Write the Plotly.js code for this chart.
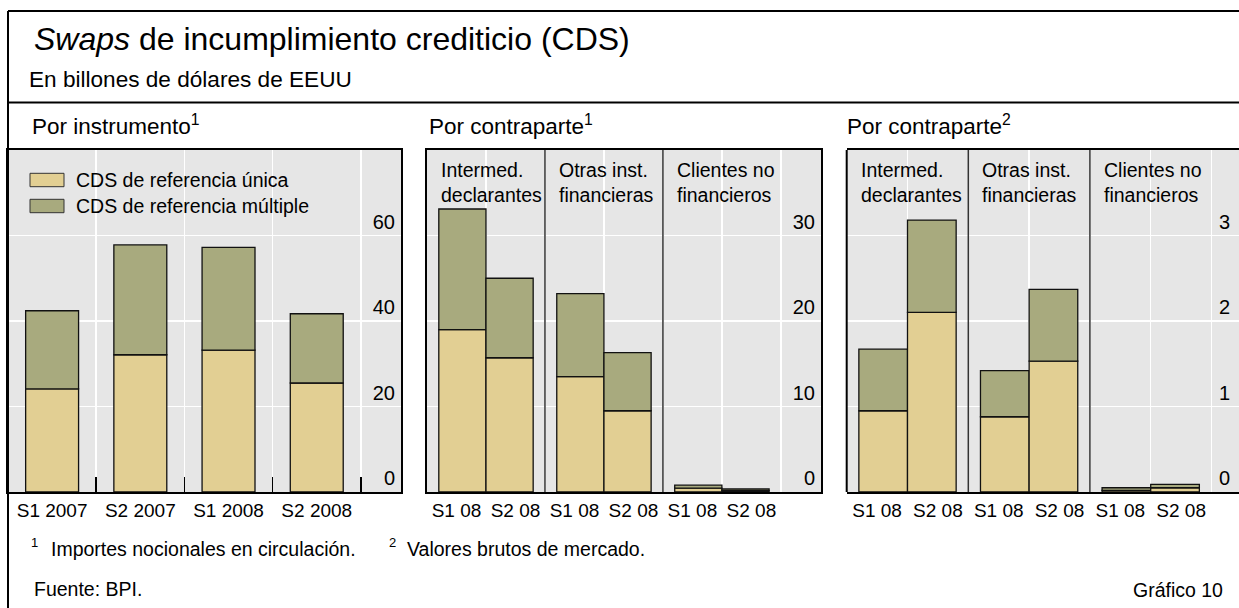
<!DOCTYPE html>
<html><head><meta charset="utf-8">
<script src="https://cdn.plot.ly/plotly-3.0.1.min.js"></script>
<style>html,body{margin:0;padding:0;background:#fff}#chart{width:1239px;height:608px}</style>
</head><body><div id="chart"></div>
<script>
// ---------------- Data ----------------
const instrumentPeriods = ['S1 2007', 'S2 2007', 'S1 2008', 'S2 2008'];
const instrumentSingle = [24.1, 32.1, 33.2, 25.5];
const instrumentMulti = [18.3, 25.7, 24.0, 16.2];

const counterpartyGroups = ['Intermed.<br>declarantes', 'Otras inst.<br>financieras', 'Clientes no<br>financieros'];
const counterpartyPeriods = ['S1 08', 'S2 08'];

// Notional amounts outstanding by counterparty
const notionalSingleS1 = [19.0, 13.5, 0.45];
const notionalMultiS1 = [14.1, 9.7, 0.35];
const notionalSingleS2 = [15.7, 9.5, 0.15];
const notionalMultiS2 = [9.3, 6.8, 0.2];

// Gross market values by counterparty
const grossSingleS1 = [0.95, 0.88, 0.02];
const grossMultiS1 = [0.72, 0.54, 0.03];
const grossSingleS2 = [2.1, 1.53, 0.05];
const grossMultiS2 = [1.08, 0.84, 0.04];

const seriesNames = ['CDS de referencia única', 'CDS de referencia múltiple'];
const panelTitles = ['Por instrumento<sup>1</sup>', 'Por contraparte<sup>1</sup>', 'Por contraparte<sup>2</sup>'];
const yTicks1 = [0, 20, 40, 60];
const yTicks2 = [0, 10, 20, 30];
const yTicks3 = [0, 1, 2, 3];
const footnotes = ['Importes nocionales en circulación.', 'Valores brutos de mercado.'];

// ---------------- Styles ----------------
const W = 1239, H = 608;
const px = v => v / W;
const py = v => 1 - v / H;
const FONT = 'Liberation Sans, Arial, Helvetica, sans-serif';
const colSingle = '#e2cf93';
const colMulti = '#a8aa7e';
const plotBg = '#e6e6e6';
const outline = {color: '#111', width: 1.3};

const dom1 = [px(8), px(401)];
const dom2 = [px(427), px(821)];
const dom3 = [px(846.7), 1];
const ydom = [py(492), py(150)];

const groupIdx = counterpartyGroups.map((_, i) => i);

function stackedPair(xa, ya, single, multi, offset, width, xs) {
  return [
    {type: 'bar', x: xs, y: single, xaxis: xa, yaxis: ya, marker: {color: colSingle, line: outline},
     width: width, offset: offset, showlegend: false, hoverinfo: 'skip'},
    {type: 'bar', x: xs, y: multi, base: single, xaxis: xa, yaxis: ya, marker: {color: colMulti, line: outline},
     width: width, offset: offset, showlegend: false, hoverinfo: 'skip'}
  ];
}

const traces = [];
// Panel 1
traces.push({type: 'bar', name: seriesNames[0], x: instrumentPeriods, y: instrumentSingle, xaxis: 'x', yaxis: 'y',
  marker: {color: colSingle, line: outline}, width: 0.6, showlegend: false, hoverinfo: 'skip'});
traces.push({type: 'bar', name: seriesNames[1], x: instrumentPeriods, y: instrumentMulti, base: instrumentSingle, xaxis: 'x', yaxis: 'y',
  marker: {color: colMulti, line: outline}, width: 0.6, showlegend: false, hoverinfo: 'skip'});
// Panel 2
traces.push(...stackedPair('x2', 'y2', notionalSingleS1, notionalMultiS1, -0.4, 0.4, groupIdx));
traces.push(...stackedPair('x2', 'y2', notionalSingleS2, notionalMultiS2, 0, 0.4, groupIdx));
// Panel 3
traces.push(...stackedPair('x3', 'y3', grossSingleS1, grossMultiS1, -0.4, 0.4, groupIdx));
traces.push(...stackedPair('x3', 'y3', grossSingleS2, grossMultiS2, 0, 0.4, groupIdx));

const tickFont = {family: FONT, size: 19, color: '#000'};
const yTickFont = {family: FONT, size: 20, color: '#000'};
const periodTickVals = [], periodTickText = [];
groupIdx.forEach(g => counterpartyPeriods.forEach((p, k) => {
  periodTickVals.push(g + (k - 0.5) * 0.5);
  periodTickText.push(p);
}));

function yAxis(anchor, range, ticks, line) {
  return {domain: ydom, anchor: anchor, range: range, tickvals: ticks, side: 'right',
    ticklabelposition: 'inside top', ticklabelstandoff: 6, showgrid: true, gridcolor: '#fff', gridwidth: 1.5,
    zeroline: false, showline: line, mirror: true, linecolor: '#000', linewidth: 2,
    ticks: '', tickfont: yTickFont, fixedrange: true};
}
function xGroupAxis(domain, anchor, range) {
  return {domain: domain, anchor: anchor, range: range, tickmode: 'array', tickvals: periodTickVals,
    ticktext: periodTickText, tickangle: 0, showgrid: false,
    minor: {dtick: 0.5, tick0: 0, showgrid: true, gridcolor: '#fff', gridwidth: 1.5, ticks: ''},
    zeroline: false, showline: true, mirror: true, linecolor: '#000', linewidth: 2,
    ticks: '', tickfont: tickFont, fixedrange: true};
}

const shapes = [
  // outer frame
  {type: 'line', xref: 'paper', yref: 'paper', x0: px(8), x1: 1, y0: py(11), y1: py(11), line: {color: '#000', width: 2}},
  {type: 'line', xref: 'paper', yref: 'paper', x0: px(8), x1: 1, y0: py(102.5), y1: py(102.5), line: {color: '#000', width: 2}},
  {type: 'line', xref: 'paper', yref: 'paper', x0: px(8), x1: px(8), y0: py(11), y1: 0, line: {color: '#000', width: 2}},
  // left border of the third panel (its right side runs past the picture edge)
  {type: 'line', xref: 'paper', yref: 'paper', x0: dom3[0], x1: dom3[0], y0: ydom[0], y1: ydom[1], line: {color: '#000', width: 2}, layer: 'above'},
];
// group separators for panels 2 & 3
['x2', 'x3'].forEach(xa => {
  for (let g = 1; g < counterpartyGroups.length; g++) {
    shapes.push({type: 'line', xref: xa, yref: 'paper', x0: g - 0.5, x1: g - 0.5, y0: ydom[0], y1: ydom[1],
      line: {color: '#333', width: 1.5}, layer: 'above'});
  }
});
// legend swatches
const legendRows = [180, 206];
const legendColors = [colSingle, colMulti];
seriesNames.forEach((n, i) => {
  shapes.push({type: 'rect', xref: 'paper', yref: 'paper', x0: px(30), x1: px(64),
    y0: py(legendRows[i] + 6.7), y1: py(legendRows[i] - 6.7), fillcolor: legendColors[i],
    line: {color: '#333', width: 1}, layer: 'above'});
});

const ann = [];
const TXT = 19.5;
const A = (o) => ann.push(Object.assign({showarrow: false, xref: 'paper', yref: 'paper', font: {family: FONT, size: TXT, color: '#000'}}, o));
A({text: 'En billones de dólares de EEUU', x: px(27), xanchor: 'left', y: py(79), yanchor: 'middle', font: {family: FONT, size: 22.6, color: '#000'}});
const titleX = [30, 427, 845];
panelTitles.forEach((t, i) => A({text: t, x: px(titleX[i]), xanchor: 'left', y: py(141.5), yanchor: 'bottom', font: {family: FONT, size: 22.5, color: '#000'}}));
seriesNames.forEach((n, i) => A({text: n, x: px(74), xanchor: 'left', y: py(legendRows[i]), yanchor: 'middle'}));
['x2', 'x3'].forEach(xa => counterpartyGroups.forEach((g, i) => A({text: g, xref: xa, x: i - 0.4, xanchor: 'left',
  y: py(157), yanchor: 'top', align: 'left'})));
A({text: '1', x: px(29), xanchor: 'left', y: py(542), yanchor: 'middle', font: {family: FONT, size: 13, color: '#000'}});
A({text: footnotes[0], x: px(49), xanchor: 'left', y: py(549), yanchor: 'middle'});
A({text: '2', x: px(387), xanchor: 'left', y: py(542), yanchor: 'middle', font: {family: FONT, size: 13, color: '#000'}});
A({text: footnotes[1], x: px(405), xanchor: 'left', y: py(549), yanchor: 'middle'});
A({text: 'Fuente: BPI.', x: px(32), xanchor: 'left', y: py(589), yanchor: 'middle'});
A({text: 'Gráfico 10', x: px(1225), xanchor: 'right', y: py(590), yanchor: 'middle'});

const layout = {
  width: W, height: H, autosize: false,
  margin: {l: 0, r: 0, t: 0, b: 0},
  paper_bgcolor: '#fff', plot_bgcolor: plotBg,
  font: {family: FONT, color: '#000'},
  barmode: 'overlay',
  showlegend: false,
  title: {text: '<i>Swaps</i> de incumplimiento crediticio (CDS)', font: {family: FONT, size: 32, color: '#000'},
    x: px(34), xanchor: 'left', xref: 'paper', y: py(38.5), yref: 'paper', yanchor: 'middle'},
  xaxis: {domain: dom1, anchor: 'y', type: 'category', range: [-0.5, 3.955], tickson: 'boundaries',
    ticks: 'inside', ticklen: 15, tickwidth: 1.5, tickcolor: '#000', showgrid: true, gridcolor: '#fff', gridwidth: 1.5,
    zeroline: false, showline: true, mirror: true, linecolor: '#000', linewidth: 2, tickfont: tickFont, tickangle: 0, fixedrange: true},
  yaxis: yAxis('x', [0, 80], yTicks1, true),
  xaxis2: xGroupAxis(dom2, 'y2', [-0.5, 2.84]),
  yaxis2: yAxis('x2', [0, 40], yTicks2, true),
  xaxis3: xGroupAxis(dom3, 'y3', [-0.5, 2.726]),
  yaxis3: yAxis('x3', [0, 4], yTicks3, false),
  shapes: shapes,
  annotations: ann
};

Plotly.newPlot('chart', traces, layout, {staticPlot: true, displayModeBar: false});
</script>
</body></html>
